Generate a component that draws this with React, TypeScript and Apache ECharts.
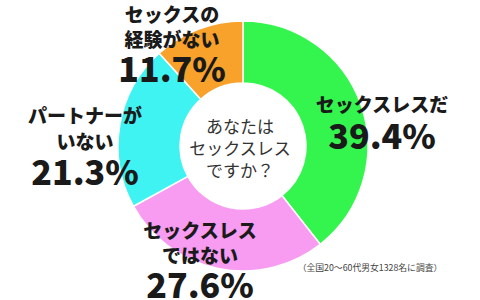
import React, { useEffect, useRef } from "react";
import * as echarts from "echarts";

const categories = ["セックスレスだ", "セックスレスではない", "パートナーがいない", "セックスの経験がない"];
const values = [39.4, 27.6, 21.3, 11.7];
const nameLines = [["セックスレスだ"], ["セックスレス", "ではない"], ["パートナーが", "いない"], ["セックスの", "経験がない"]];
const colors = ["#34f54e", "#f79cf1", "#40f3f3", "#f8a12b"];
const centerLines = ["あなたは", "セックスレス", "ですか？"];
const footnote = "（全国20〜60代男女1328名に調査）";

// label layout: center x, y of each name line, y of value line
const labelX = [382, 200, 85, 172];
const labelNameY = [[103], [229, 254], [114, 140], [13, 38]];
const labelValueY = [134.5, 283, 170, 67];

const FONT = "'Noto Sans CJK JP', 'Noto Sans', sans-serif";

export default function App() {
  const ref = useRef<HTMLDivElement>(null);
  useEffect(() => {
    document.body.style.margin = "0";
    if (!ref.current) return;
    const chart = echarts.init(ref.current, null, { renderer: "svg" });
    const graphics: any[] = [];
    categories.forEach((_, i) => {
      nameLines[i].forEach((line, j) => {
        graphics.push({
          type: "text",
          x: labelX[i],
          y: labelNameY[i][j],
          z: 10,
          style: {
            text: line,
            fill: "#1a1a1a",
            font: `900 19px ${FONT}`,
            lineHeight: 18,
            textAlign: "center",
            textVerticalAlign: "middle",
          },
        });
      });
      graphics.push({
        type: "text",
        x: labelX[i],
        y: labelValueY[i],
        z: 10,
        style: {
          text: values[i].toFixed(1) + "%",
          fill: "#1a1a1a",
          font: `900 34px ${FONT}`,
          lineHeight: 26,
          textAlign: "center",
          textVerticalAlign: "middle",
        },
      });
    });
    centerLines.forEach((line, j) => {
      graphics.push({
        type: "text",
        x: 240,
        y: 125 + j * 22,
        z: 10,
        style: {
          text: line,
          fill: "#333333",
          font: `400 17px ${FONT}`,
          lineHeight: 18,
          textAlign: "center",
          textVerticalAlign: "middle",
        },
      });
    });
    graphics.push({
      type: "text",
      x: 370,
      y: 267.5,
      z: 10,
      style: {
        text: footnote,
        fill: "#444444",
        font: `400 8.8px ${FONT}`,
        textAlign: "center",
        textVerticalAlign: "middle",
      },
    });
    chart.setOption({
      animation: false,
      backgroundColor: "#ffffff",
      series: [
        {
          type: "pie",
          center: [243, 146],
          radius: [63, 125],
          startAngle: 90,
          clockwise: true,
          label: { show: false },
          labelLine: { show: false },
          emphasis: { disabled: true },
          itemStyle: { borderColor: "#ffffff", borderWidth: 1.5 },
          data: categories.map((name, i) => ({
            name,
            value: values[i],
            itemStyle: { color: colors[i] },
          })),
        },
      ],
      graphic: graphics,
    });
    return () => chart.dispose();
  }, []);
  return <div ref={ref} style={{ width: 480, height: 300 }} />;
}
